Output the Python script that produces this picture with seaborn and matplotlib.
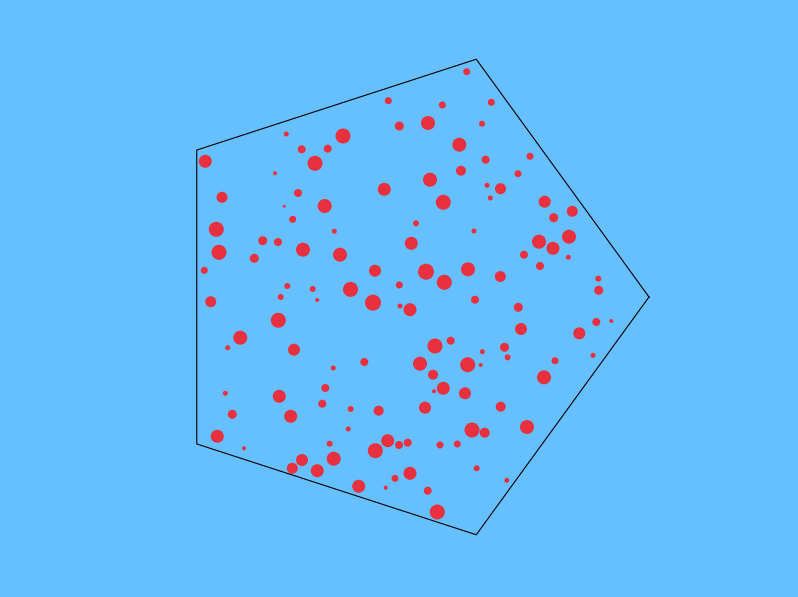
import numpy as np
import pandas as pd
import seaborn as sns
import matplotlib
matplotlib.use("Agg")
import matplotlib.pyplot as plt

# dot positions (pixels of the picture, y downwards) and diameters (px)
dot_x = [286.3, 343, 301.7, 327.7, 205.3, 315, 275, 298, 222, 324.7, 284.3, 292.7, 334.3,
         216.3, 262.7, 278, 219, 303, 340, 254.3, 204.3, 287.3, 312.7, 350.5, 280.7, 210.7,
         317.2,
         466.7, 388.3, 442.3, 491.3, 399.3, 428, 482, 459.3, 485.7, 461, 430, 384.3, 487,
         500.5, 443.3, 490.3, 416, 474, 411.3, 375, 426, 468, 500.3, 444.3, 399.3,
         530, 518, 544.7, 572.3, 553.7, 569, 539, 553, 524, 568.3, 540, 598.3, 598.7,
         278.3, 240.3, 227.7, 294, 333.3, 325.3, 225.3, 279.3, 322.3, 232.3, 290.7, 350.7,
         217.3, 348.3, 244, 329.7, 302, 333.7, 292.3, 317.3,
         373, 400, 410, 475, 435, 450.7, 504.5, 482.3, 507.6, 364.3, 420, 467.7, 480.7,
         433, 443.3, 434, 465, 378.7, 425, 500.7, 472, 484.7, 387.7, 399, 407.7, 440,
         457.3, 375.3, 476.7, 410, 395, 506.8, 358.7, 385.7, 427.7, 437.3,
         518.3, 596.3, 611.3, 521, 579.3, 593, 555, 544, 527]
dot_y = [134, 136, 149.3, 148.7, 161.3, 163.3, 173.3, 193, 197.3, 206, 206.3, 219.3, 231.3,
         229.3, 240.7, 242, 252.3, 249.7, 254.7, 258.3, 270.3, 286, 289, 289.4, 297, 301.7,
         300,
         71.7, 100.7, 105, 102.3, 126, 123, 123.7, 144.7, 159.7, 170.7, 179.7, 189.3, 185.3,
         188.7, 202.3, 198, 223.3, 231, 243.3, 270.7, 271.7, 269.3, 276.5, 282.3, 285,
         156.3, 173.7, 201.7, 211.3, 217.7, 236.7, 241.7, 248.3, 254.7, 257.3, 266, 278.7, 290.3,
         320.3, 337.7, 347.7, 349.7, 368, 388, 393.3, 396.3, 403.7, 414.3, 416.3, 409,
         436.3, 429, 448.3, 443.7, 460, 458.7, 468.3, 470.7,
         302.7, 306, 309.7, 299.7, 346, 340.7, 347.3, 351.7, 357.3, 362, 363.7, 364.7, 365,
         374.7, 388.3, 391.3, 393.3, 410.7, 407.7, 406.7, 430, 432.7, 440.7, 445, 442.7, 445,
         444, 450.7, 468.3, 473.3, 478.3, 480.3, 486.3, 487.7, 490.7, 512,
         307.3, 322, 321, 329, 333.3, 355.3, 360.7, 377.3, 427]
dot_d = [5, 15, 8, 8, 13, 15, 4, 8, 11, 14, 3, 7, 5,
         15, 9, 8, 15, 14, 14, 9, 7, 6, 6, 15, 6, 11,
         4,
         7, 7, 7, 7, 9, 14, 6, 14, 8, 10, 14, 13, 5,
         11, 15, 5, 6, 5, 13, 12, 16, 14, 11, 15, 7,
         7, 7, 12, 11, 9, 14, 14, 13, 8, 5, 8, 6, 9,
         15, 14, 5, 12, 5, 8, 5, 13, 8, 9, 13, 6,
         13, 5, 4, 6, 12, 14, 11, 13,
         16, 5, 13, 8, 15, 8, 9, 5, 6, 8, 14, 15, 4,
         10, 13, 4, 12, 10, 12, 10, 15, 10, 13, 8, 8, 7,
         7, 15, 6, 13, 7, 5, 13, 4, 8, 15,
         9, 8, 4, 12, 12, 5, 7, 14, 14]

# pentagon outline
centre_x, centre_y, radius = 399, 297, 250

W, H = 798, 597
df = pd.DataFrame({"x": dot_x, "y": dot_y, "d": dot_d})
# diameter in px -> marker area in pt^2 at dpi 100
df["area"] = (df["d"] * 0.72) ** 2

bg = "#66bfff"
fig = plt.figure(figsize=(W / 100, H / 100), dpi=100, facecolor=bg)
ax = fig.add_axes([0, 0, 1, 1])
ax.set_facecolor(bg)

ang = np.deg2rad(np.arange(0, 361, 72))
ax.plot(centre_x + radius * np.cos(ang), centre_y - radius * np.sin(ang),
        color="black", lw=0.8)

sns.scatterplot(data=df, x="x", y="y", s=df["area"].values, color="#e8303f",
                linewidth=0, edgecolor="none", legend=False, ax=ax)

ax.set_xlim(0, W)
ax.set_ylim(H, 0)
ax.axis("off")
fig.savefig("out.png", dpi=100, facecolor=bg)
